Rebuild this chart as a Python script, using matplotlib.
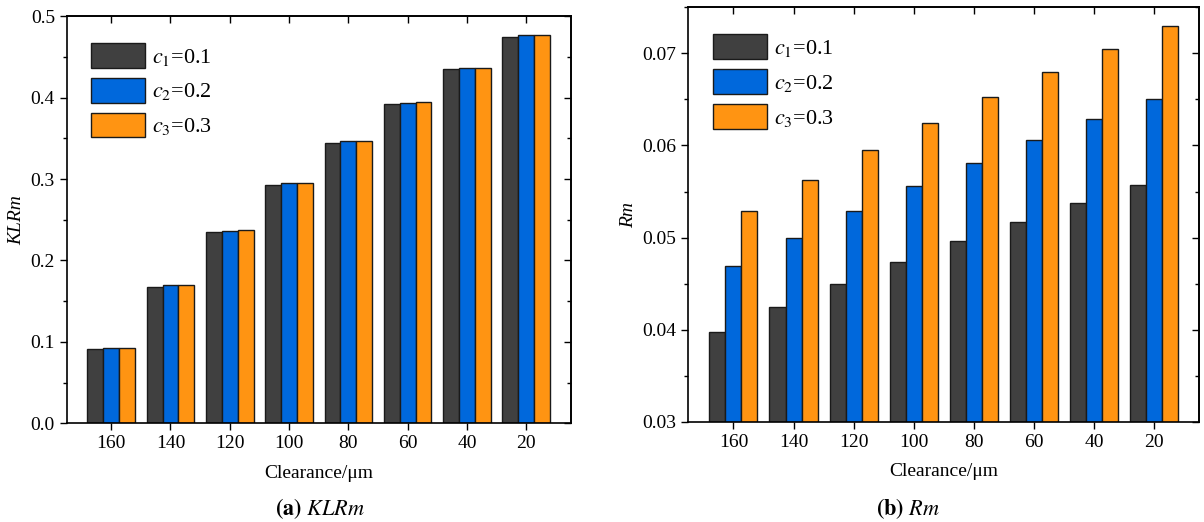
import numpy as np
import matplotlib
matplotlib.use("Agg")
import matplotlib.pyplot as plt
from matplotlib.ticker import MultipleLocator

plt.rcParams["font.family"] = ["Liberation Serif", "DejaVu Serif"]
plt.rcParams["mathtext.fontset"] = "stix"

clearance = ["160", "140", "120", "100", "80", "60", "40", "20"]
series_labels = [r"$c_1$=0.1", r"$c_2$=0.2", r"$c_3$=0.3"]
colors = ["#404040", "#0068DC", "#FF9412"]

# KLRm for c1, c2, c3
klrm_c1 = [0.0910, 0.1680, 0.2348, 0.2930, 0.3447, 0.3918, 0.4352, 0.4746]
klrm_c2 = [0.0922, 0.1697, 0.2365, 0.2947, 0.3463, 0.3934, 0.4365, 0.4766]
klrm_c3 = [0.0922, 0.1700, 0.2369, 0.2951, 0.3471, 0.3943, 0.4369, 0.4766]

# Rm for c1, c2, c3
rm_c1 = [0.03975, 0.04246, 0.04496, 0.04736, 0.04960, 0.05174, 0.05377, 0.05576]
rm_c2 = [0.04696, 0.05000, 0.05290, 0.05558, 0.05812, 0.06058, 0.06290, 0.06507]
rm_c3 = [0.05293, 0.05627, 0.05946, 0.06243, 0.06522, 0.06797, 0.07047, 0.07301]

FS = 14
W = 0.267


def draw_panel(ax, series, ylim, major, ylabel):
    x = np.arange(len(clearance))
    for i, (vals, col, lab) in enumerate(zip(series, colors, series_labels)):
        ax.bar(x + (i - 1) * W, vals, W, color=col, edgecolor="#1a1a1a",
               linewidth=1.0, label=lab)
    ax.set_xlim(-0.75, len(clearance) - 0.25)
    ax.set_ylim(*ylim)
    ax.set_xticks(x)
    ax.set_xticklabels(clearance, fontsize=FS)
    ax.yaxis.set_major_locator(MultipleLocator(major))
    ax.yaxis.set_minor_locator(MultipleLocator(major / 2))
    ax.tick_params(axis="both", which="major", direction="out", length=5,
                   width=1.0, labelsize=FS, top=False, right=False)
    ax.tick_params(axis="y", which="minor", direction="out", length=3,
                   width=1.0, right=False)
    # inward ticks on top and right, no labels
    sec_x = ax.secondary_xaxis("top")
    sec_x.set_xticks(x)
    sec_x.tick_params(direction="in", length=5, width=1.0)
    sec_x.set_xticklabels([])
    sec_y = ax.secondary_yaxis("right")
    sec_y.yaxis.set_major_locator(MultipleLocator(major))
    sec_y.yaxis.set_minor_locator(MultipleLocator(major / 2))
    sec_y.tick_params(which="major", direction="in", length=5, width=1.0)
    sec_y.tick_params(which="minor", direction="in", length=3, width=1.0)
    sec_y.set_yticklabels([])
    for s in ax.spines.values():
        s.set_linewidth(1.2)
    for s in list(sec_x.spines.values()) + list(sec_y.spines.values()):
        s.set_linewidth(1.2)
    ax.set_ylabel(ylabel, fontsize=FS, style="italic", labelpad=4)
    ax.set_xlabel("Clearance/μm", fontsize=FS, labelpad=9)
    ax.legend(loc="upper left", bbox_to_anchor=(0.048, 0.935), frameon=False,
              fontsize=16, handlelength=2.45, handleheight=1.35,
              labelspacing=0.45, handletextpad=0.3, borderpad=0,
              borderaxespad=0)


fig = plt.figure(figsize=(12.04, 5.22), dpi=100)
ax1 = fig.add_axes([0.0554, 0.189, 0.4186, 0.780])
ax2 = fig.add_axes([0.5717, 0.192, 0.4244, 0.794])

draw_panel(ax1, [klrm_c1, klrm_c2, klrm_c3], (0, 0.5), 0.1, "KLRm")
ax1.yaxis.set_major_formatter(plt.FuncFormatter(lambda v, p: f"{v:.1f}"))
draw_panel(ax2, [rm_c1, rm_c2, rm_c3], (0.03, 0.075), 0.01, "Rm")
ax2.yaxis.set_major_formatter(plt.FuncFormatter(lambda v, p: f"{v:.2f}"))

fig.text(0.266, 0.014, r"$\mathbf{(a)}$ $\mathit{KLRm}$", ha="center",
         va="baseline", fontsize=16)
fig.text(0.754, 0.014, r"$\mathbf{(b)}$ $\mathit{Rm}$", ha="center",
         va="baseline", fontsize=16)

fig.savefig("out.png", dpi=100)
